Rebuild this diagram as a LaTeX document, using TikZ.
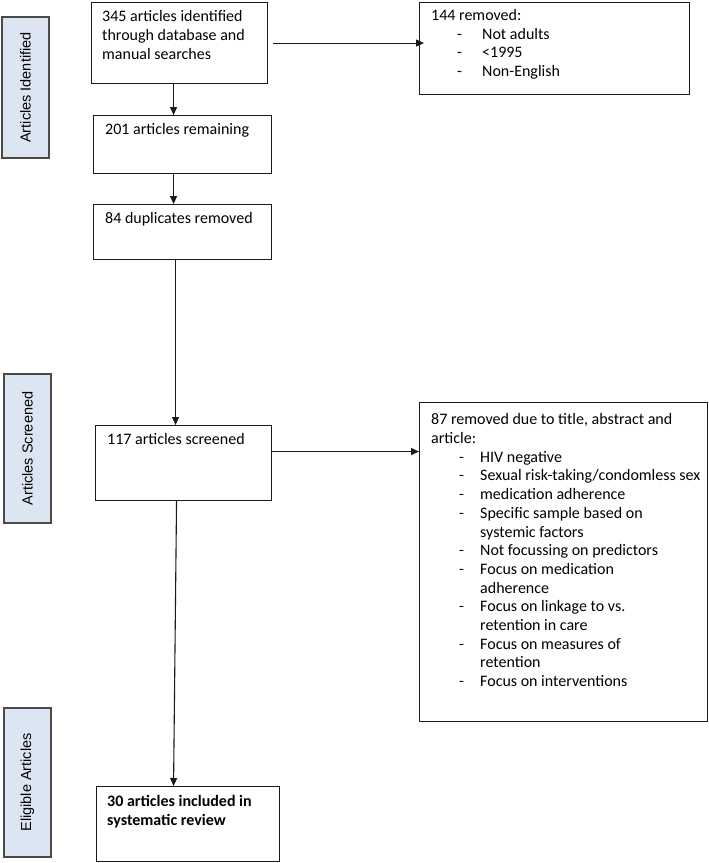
\documentclass[tikz,border=0pt]{standalone}
\usepackage{fontspec}
\setmainfont{Carlito}
\newfontfamily\labfont{Liberation Sans}
\usetikzlibrary{arrows.meta}
\definecolor{labfill}{HTML}{DCE6F2}
\definecolor{labdraw}{HTML}{4A4A4A}
\definecolor{linecol}{HTML}{1A1A1A}
\begin{document}
\begin{tikzpicture}[x=1pt,y=-1pt,
  box/.style={draw=linecol, line width=1.1pt, rectangle, inner sep=0pt, anchor=north west},
  lab/.style={draw=labdraw, fill=labfill, line width=1.1pt, rectangle, inner sep=0pt, rotate=90,
    font=\labfont\fontsize{14.5}{17}\selectfont},
  txt/.style={anchor=north west, inner sep=0pt, align=left, font=\fontsize{16}{19}\selectfont},
  ltxt/.style={anchor=north west, inner sep=0pt, align=left, font=\fontsize{16}{18.7}\selectfont},
  arr/.style={draw=linecol, line width=1.1pt, -{Triangle[length=8pt,width=7pt]}},
  ln/.style={draw=linecol, line width=1.1pt}
]
\useasboundingbox (0,0) rectangle (709,863);
\newcommand{\itm}[1]{\makebox[25pt][l]{-}#1}
\newcommand{\itmb}[1]{\makebox[21pt][l]{-}#1}
\newcommand{\itmbc}[1]{\makebox[21pt][l]{}#1}

% side labels
\node[lab, minimum width=141pt, minimum height=47pt] (L1) at (25.5,87.5) {Articles Identified};
\node[lab, minimum width=149pt, minimum height=47pt] (L2) at (27.5,448.5) {Articles Screened};
\node[lab, minimum width=149pt, minimum height=47pt] (L3) at (27.5,782.5) {Eligible Articles};

% boxes
\node[box, minimum width=176pt, minimum height=81pt] (b1) at (91,2) {};
\node[box, minimum width=270pt, minimum height=92pt] (b144) at (419,2) {};
\node[box, minimum width=178pt, minimum height=58pt] (b2) at (93,115) {};
\node[box, minimum width=178pt, minimum height=55pt] (b3) at (93,204) {};
\node[box, minimum width=176pt, minimum height=75pt] (b117) at (95,425) {};
\node[box, minimum width=288pt, minimum height=319pt] (b87) at (419,402) {};
\node[box, minimum width=183pt, minimum height=75pt] (b30) at (96,786) {};

% texts
\node[txt] (t1) at (102,10.5) {345 articles identified\\through database and\\manual searches};
\node[txt, font=\fontsize{16}{18.5}\selectfont] (t144) at (431,9.5) {144 removed:\\
  \hspace*{26pt}\itm{Not adults}\\
  \hspace*{26pt}\itm{<1995}\\
  \hspace*{26pt}\itm{Non-English}};
\node[txt] (t2) at (105,123.5) {201 articles remaining};
\node[txt] (t3) at (105,212.5) {84 duplicates removed};
\node[txt] (t117) at (107,433.5) {117 articles screened};
\node[ltxt] (t87) at (431,413.5) {87 removed due to title, abstract and\\
  article:\\
  \hspace*{28pt}\itmb{HIV negative}\\
  \hspace*{28pt}\itmb{Sexual risk-taking/condomless sex}\\
  \hspace*{28pt}\itmb{medication adherence}\\
  \hspace*{28pt}\itmb{Specific sample based on}\\
  \hspace*{28pt}\itmbc{systemic factors}\\
  \hspace*{28pt}\itmb{Not focussing on predictors}\\
  \hspace*{28pt}\itmb{Focus on medication}\\
  \hspace*{28pt}\itmbc{adherence}\\
  \hspace*{28pt}\itmb{Focus on linkage to vs.}\\
  \hspace*{28pt}\itmbc{retention in care}\\
  \hspace*{28pt}\itmb{Focus on measures of}\\
  \hspace*{28pt}\itmbc{retention}\\
  \hspace*{28pt}\itmb{Focus on interventions}};
\node[txt, font=\bfseries\fontsize{16}{19}\selectfont] (t30) at (107,795.5) {30 articles included in\\systematic review};

% connectors
\draw[arr] ([xshift=5pt]b1.east) -- ([xshift=5pt]b1.east -| b144.west);
\draw[arr] ([xshift=-6pt]b1.south) -- ([xshift=-6pt]b1.south |- b2.north);
\draw[arr] ([xshift=-9pt]b2.south) -- ([xshift=-9pt]b2.south |- b3.north);
\draw[arr] ([xshift=-7pt]b3.south) -- ([xshift=-7pt]b3.south |- b117.north);
\draw[arr] ([yshift=11.5pt]b117.east) -- ([yshift=11.5pt]b117.east -| b87.west);
\draw[arr] ([xshift=-7pt]b117.south) -- ([xshift=-14.5pt]b30.north);
\end{tikzpicture}
\end{document}
